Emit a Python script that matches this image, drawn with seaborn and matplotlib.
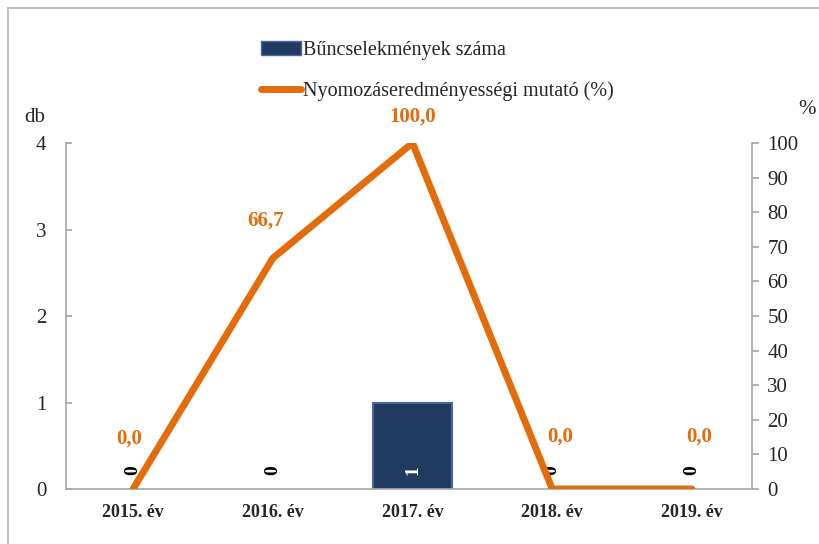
import matplotlib
matplotlib.use("Agg")
import matplotlib.pyplot as plt
from matplotlib.patches import Patch, Rectangle
from matplotlib.lines import Line2D
import seaborn as sns
import pandas as pd

# adatok
evek = ["2015. év", "2016. év", "2017. év", "2018. év", "2019. év"]
buncselekmenyek = [0, 0, 1, 0, 0]
mutato = [0.0, 66.7, 100.0, 0.0, 0.0]

sorozat_bar = "Bűncselekmények száma"
sorozat_line = "Nyomozáseredményességi mutató (%)"

sns.set_theme(style="white")
plt.rcParams['font.family'] = ['Liberation Serif', 'DejaVu Serif']

kek = "#1F3B62"
narancs = "#E36C09"
szurke = "#A6A6A6"

df = pd.DataFrame({"ev": evek, "db": buncselekmenyek, "szazalek": mutato})

fig = plt.figure(figsize=(8.2, 5.44), dpi=100)
ax = fig.add_axes([66 / 820, 55 / 544, 686 / 820, 346 / 544])

sns.barplot(data=df, x="ev", y="db", color=kek, width=0.565, saturation=1,
            linewidth=0, ax=ax)
# csak a nem nulla oszlopoknak legyen kerete
for p in ax.patches:
    if p.get_height() > 0:
        p.set_edgecolor("#4A6A94")
        p.set_linewidth(1.5)
ax.set_ylim(0, 4)
ax.set_xlim(-0.48, 4.43)
ax.set_yticks([0, 1, 2, 3, 4])
ax.set_xlabel("")
ax.set_ylabel("")
ax.tick_params(axis="y", labelsize=15, direction="in", length=4, color=szurke,
               left=True, pad=14)
ax.tick_params(axis="x", labelsize=13, length=0, pad=11)
for t in ax.get_xticklabels():
    t.set_fontweight("bold")
for s in ["top", "right"]:
    ax.spines[s].set_visible(False)
for s in ["left", "bottom"]:
    ax.spines[s].set_color(szurke)
    ax.spines[s].set_linewidth(1.2)

# oszlop címkék
for i, v in enumerate(buncselekmenyek):
    ax.text(i, 0.22, str(v), rotation=90, ha="center", va="center",
            fontsize=14, fontweight="bold",
            color="white" if v > 0 else "black")

ax2 = ax.twinx()
sns.lineplot(x=list(range(len(evek))), y=mutato, color=narancs, linewidth=5,
             ax=ax2, solid_capstyle="round", solid_joinstyle="miter")
ax2.set_ylim(0, 100)
ax2.set_yticks(range(0, 101, 10))
ax2.tick_params(axis="y", labelsize=15, direction="out", length=5, color=szurke,
                right=True, pad=6)
for s in ["top", "left", "bottom"]:
    ax2.spines[s].set_visible(False)
ax2.spines["right"].set_color(szurke)
ax2.spines["right"].set_linewidth(1.2)

# vonal címkék
eltolas = {0: (-3, 36), 1: (-5, 27), 2: (0, 19), 3: (6, 38), 4: (5, 38)}
for i, v in enumerate(mutato):
    dx, dy = eltolas[i]
    ax2.annotate(f"{v:.1f}".replace(".", ","), (i, v), xytext=(dx, dy),
                 textcoords="offset points", ha="center", va="center",
                 fontsize=15, fontweight="bold", color=narancs)

fig.text(35 / 820, 1 - 118 / 544, "db", fontsize=15, ha="center", va="center")
fig.text(798 / 820, 1 - 110 / 544, "%", fontsize=15, ha="left", va="center")

kezelok = [Patch(facecolor=kek, edgecolor="#4A6A94"),
           Line2D([0], [0], color=narancs, linewidth=5, solid_capstyle="round")]
fig.legend(kezelok, [sorozat_bar, sorozat_line], loc="upper left",
           bbox_to_anchor=(243 / 820, 1 - 23 / 544), frameon=False,
           fontsize=14.5, handlelength=2.0, handletextpad=0.1, labelspacing=1.05)

fig.add_artist(Rectangle((8 / 820, -0.1), 2, 1.1 - 8 / 544,
                         transform=fig.transFigure, fill=False,
                         edgecolor="#BFBFBF", linewidth=1.5))

fig.savefig("out.png", dpi=100)
